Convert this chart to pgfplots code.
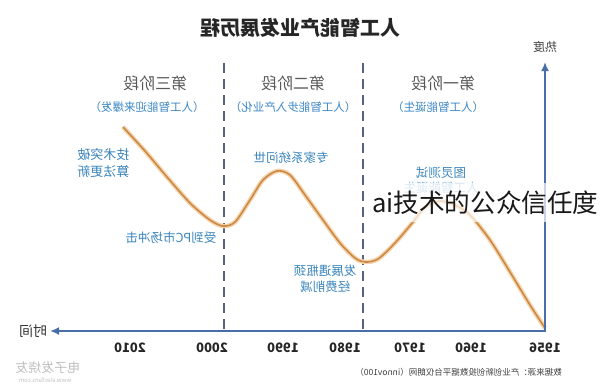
\documentclass[border=0pt]{standalone}
\usepackage{pgfplots}
\pgfplotsset{compat=1.18}
\usepackage{graphicx}
\usepackage{fontspec}
\setmainfont{Noto Sans CJK SC}
\usetikzlibrary{arrows.meta}
\definecolor{axblue}{HTML}{4A6EA8}
\definecolor{dashc}{HTML}{56627E}
\definecolor{curvecore}{HTML}{C98A48}
\definecolor{curveglow}{HTML}{F6D3AA}
\definecolor{stagegray}{HTML}{5A5A5A}
\definecolor{subblue}{HTML}{3C86C4}
\definecolor{annblue}{HTML}{3A84BC}
\newcommand{\mr}[1]{\reflectbox{#1}}
\newcommand{\fs}[1]{\fontsize{#1}{#1}\selectfont}
\begin{document}
\begin{tikzpicture}
\begin{axis}[
  width=600pt, height=386pt, scale only axis,
  xmin=0, xmax=600, ymin=0, ymax=386, y dir=reverse,
  hide axis, clip=false,
]
\coordinate (tl) at (axis cs:0,0);
\coordinate (br) at (axis cs:600,386);
% dashed stage dividers
\addplot[dashc, line width=1.6pt, dash pattern=on 10pt off 6pt] coordinates {(224,63) (224,330)};
\addplot[dashc, line width=1.6pt, dash pattern=on 10pt off 6pt] coordinates {(363,63) (363,330)};
% curve
\addplot[curveglow, line width=4.5pt, smooth, tension=0.5] coordinates {
(123,127) (145,151) (167,177) (190,203) (210,220) (223,226) (235,222) (250,200) (263,180) (277,171) (290,175) (305,195) (323,220) (340,243) (355,258) (365,262) (378,259) (395,243) (413,222) (425,207) (440,201) (455,205) (470,215) (490,240) (510,272) (530,305) (545,328)};
\addplot[curvecore, line width=1.6pt, smooth, tension=0.5] coordinates {
(123,127) (145,151) (167,177) (190,203) (210,220) (223,226) (235,222) (250,200) (263,180) (277,171) (290,175) (305,195) (323,220) (340,243) (355,258) (365,262) (378,259) (395,243) (413,222) (425,207) (440,201) (455,205) (470,215) (490,240) (510,272) (530,305) (545,328)};
% axes arrows
\addplot[axblue, line width=2.6pt, -{Latex[length=9pt,width=8pt]}] coordinates {(546,331) (50,331)};
\addplot[axblue, line width=2.6pt, -{Latex[length=9pt,width=8pt]}] coordinates {(545,332) (545,62)};
% title
\node[text=black!85] at (axis cs:300,28) {\fs{20}\bfseries\mr{人工智能产业发展历程}};
% axis labels
\node[text=black!75] at (axis cs:545,47) {\fs{12}\mr{热度}};
\node[text=black!80] at (axis cs:33,331) {\fs{14}\mr{时间}};
% tick labels
\foreach \px/\lab in {130/2010,212/2000,283/1990,345/1980,410/1970,471/1960,545/1956}{
  \edef\tmp{\noexpand\node[text=black!85] at (axis cs:\px,348) {\noexpand\fs{13}\noexpand\bfseries\noexpand\mr{\lab}};}
  \tmp
}
% stage titles
\node[text=stagegray] at (axis cs:155,83) {\fs{16}\mr{第三阶段}};
\node[text=subblue] at (axis cs:147,107) {\fs{11.5}\mr{（人工智能迎来爆发）}};
\node[text=stagegray] at (axis cs:293,83) {\fs{16}\mr{第二阶段}};
\node[text=subblue] at (axis cs:293,107) {\fs{11.5}\mr{（人工智能步入产业化）}};
\node[text=stagegray] at (axis cs:443,83) {\fs{16}\mr{第一阶段}};
\node[text=subblue] at (axis cs:438,107) {\fs{11.5}\mr{（人工智能诞生）}};
% annotations
\node[text=annblue, anchor=east] at (axis cs:133,155) {\fs{13}\mr{技术突破}};
\node[text=annblue, anchor=east] at (axis cs:133,172) {\fs{13}\mr{算法更新}};
\node[text=annblue] at (axis cs:171,238) {\fs{12.5}\mr{受到PC市场冲击}};
\node[text=annblue] at (axis cs:291,158) {\fs{12.5}\mr{专家系统问世}};
\node[text=annblue] at (axis cs:441,173) {\fs{12.5}\mr{图灵测试}};
\node[text=annblue!60] at (axis cs:441,188) {\fs{12.5}\mr{人工智能诞生}};
\node[text=annblue, anchor=east] at (axis cs:360,271) {\fs{12.5}\mr{发展遇瓶颈}};
\node[text=annblue, anchor=east] at (axis cs:354,287) {\fs{12.5}\mr{经费削减}};
% source
\node[text=black!75, anchor=east, inner sep=0pt] at (axis cs:562,372) {\fs{8.5}\mr{数据来源：产业创新创投数据平台仪朗网（innov100）}};
% watermark
\node[text=black!25, inner sep=0pt] at (axis cs:48,368) {\fs{13}\mr{电子发烧友}};
\node[text=black!25, inner sep=0pt] at (axis cs:45,380) {\fs{6}\mr{www.elecfans.com}};
% overlay
\fill[white, opacity=0.7] (axis cs:366,183) rectangle (axis cs:600,222);
\node[text=black!90, anchor=west, inner sep=0pt] at (axis cs:372,203) {\fs{25.6}ai技术的公众信任度};
\end{axis}
\pgfresetboundingbox
\path[use as bounding box] (tl) rectangle (br);
\end{tikzpicture}
\end{document}
